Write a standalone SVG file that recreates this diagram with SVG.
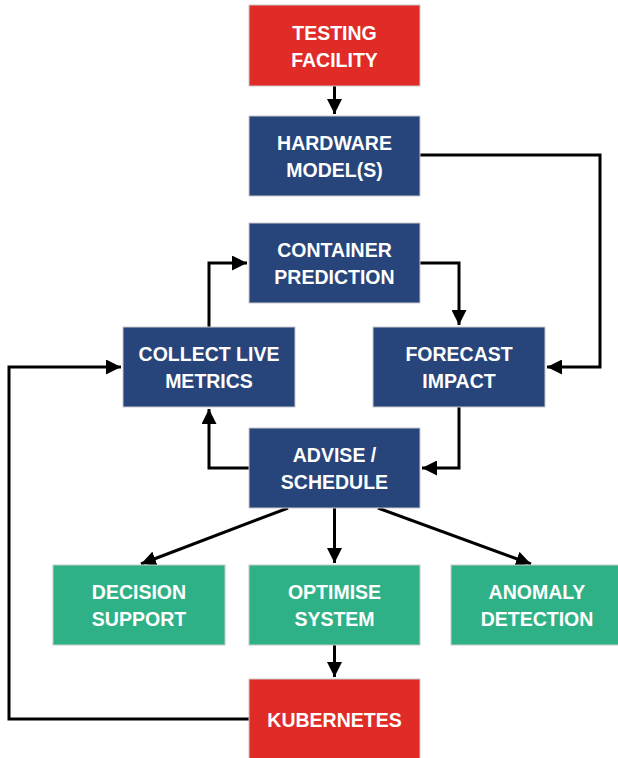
<svg xmlns="http://www.w3.org/2000/svg" width="618" height="758" viewBox="0 0 618 758">
<style>
.box{stroke:#c9c9c9;stroke-width:1}
.red{fill:#e02b27}
.blue{fill:#27457a}
.green{fill:#2fb187}
text{font-family:"Liberation Sans",Arial,sans-serif;font-weight:bold;font-size:19.5px;fill:#fff;text-anchor:middle}
.c{fill:none;stroke:#000;stroke-width:3}
</style>
<defs>
<marker id="ah" viewBox="0 0 10 10" refX="10" refY="5" markerWidth="5" markerHeight="5" orient="auto" markerUnits="strokeWidth">
<path d="M0,0 L10,5 L0,10 z" fill="#000"/>
</marker>
</defs>
<rect width="618" height="758" fill="#fff"/>
<g id="connectors">
<path class="c" d="M334.5,86 V114" marker-end="url(#ah)"/>
<path class="c" d="M420,155 H600 V367 H547" marker-end="url(#ah)"/>
<path class="c" d="M420,263 H459 V325" marker-end="url(#ah)"/>
<path class="c" d="M209,327 V263 H247" marker-end="url(#ah)"/>
<path class="c" d="M459,407 V468 H422" marker-end="url(#ah)"/>
<path class="c" d="M249,468 H209 V409" marker-end="url(#ah)"/>
<path class="c" d="M249,719 H9 V367 H121" marker-end="url(#ah)"/>
<path class="c" d="M288,508 L141,564" marker-end="url(#ah)"/>
<path class="c" d="M334.5,508 V563" marker-end="url(#ah)"/>
<path class="c" d="M378,508 L531,564" marker-end="url(#ah)"/>
<path class="c" d="M334.5,645 V677" marker-end="url(#ah)"/>
</g>
<g id="testing"><rect class="box red" x="249" y="5" width="171" height="81"/><text x="334.5" y="40">TESTING</text><text x="334.5" y="67">FACILITY</text></g>
<g id="hardware"><rect class="box blue" x="249" y="116" width="171" height="80"/><text x="334.5" y="150">HARDWARE</text><text x="334.5" y="177">MODEL(S)</text></g>
<g id="container"><rect class="box blue" x="249" y="223" width="171" height="80"/><text x="334.5" y="257">CONTAINER</text><text x="334.5" y="284">PREDICTION</text></g>
<g id="collect"><rect class="box blue" x="123" y="327" width="172" height="80"/><text x="209" y="361">COLLECT LIVE</text><text x="209" y="388">METRICS</text></g>
<g id="forecast"><rect class="box blue" x="373" y="327" width="172" height="80"/><text x="459" y="361">FORECAST</text><text x="459" y="388">IMPACT</text></g>
<g id="advise"><rect class="box blue" x="249" y="428" width="171" height="80"/><text x="334.5" y="462">ADVISE /</text><text x="334.5" y="489">SCHEDULE</text></g>
<g id="decision"><rect class="box green" x="53" y="565" width="172" height="80"/><text x="139" y="599">DECISION</text><text x="139" y="626">SUPPORT</text></g>
<g id="optimise"><rect class="box green" x="249" y="565" width="171" height="80"/><text x="334.5" y="599">OPTIMISE</text><text x="334.5" y="626">SYSTEM</text></g>
<g id="anomaly"><rect class="box green" x="451" y="565" width="172" height="80"/><text x="537" y="599">ANOMALY</text><text x="537" y="626">DETECTION</text></g>
<g id="kubernetes"><rect class="box red" x="249" y="679" width="171" height="81"/><text x="334.5" y="727">KUBERNETES</text></g>
</svg>
